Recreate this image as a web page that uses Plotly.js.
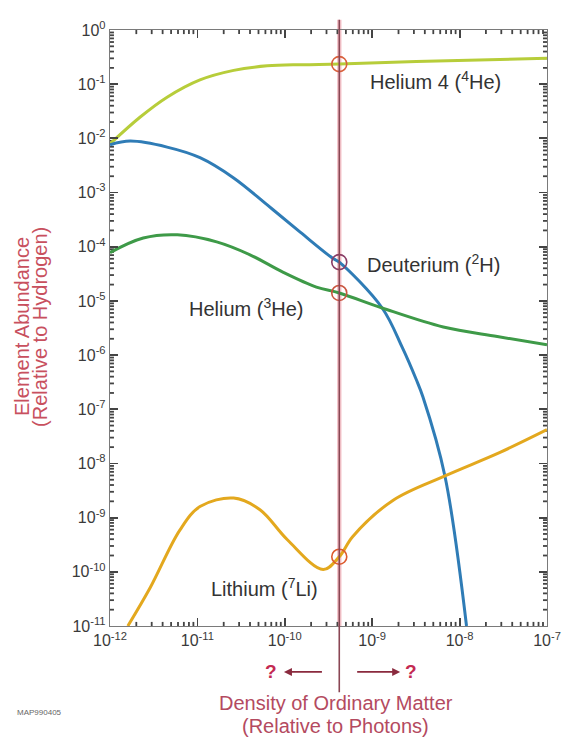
<!DOCTYPE html>
<html>
<head>
<meta charset="utf-8">
<script src="https://cdn.plot.ly/plotly-3.0.1.min.js"></script>
<style>
  html, body { margin: 0; padding: 0; background: #ffffff; }
  #chart { width: 570px; height: 738px; }
</style>
</head>
<body>
<div id="chart"></div>
<script>
// ---- Data ----
const he4X = [1e-12, 2.2e-12, 4.5e-12, 1.07e-11, 2.6e-11, 6.3e-11, 1.6e-10, 4.2e-10, 3.2e-9, 1e-7];
const he4Y = [7.9e-3, 0.0245, 0.0575, 0.12, 0.18, 0.218, 0.229, 0.235, 0.263, 0.30];

const dX = [1e-12, 1.7e-12, 4.5e-12, 1.07e-11, 2.6e-11, 6.3e-11, 1.5e-10, 3.5e-10, 4.2e-10, 1.3e-9, 2.2e-9, 3.2e-9, 3.8e-9, 6.8e-9, 1.2e-8];
const dY = [7.6e-3, 8.9e-3, 6.9e-3, 4.4e-3, 1.86e-3, 5.9e-4, 1.86e-4, 6.2e-5, 5.2e-5, 7.4e-6, 1.4e-6, 3.5e-7, 1.7e-7, 5.8e-9, 1e-11];

const he3X = [1e-12, 2.4e-12, 5.9e-12, 1.66e-11, 4.0e-11, 9.5e-11, 2.3e-10, 4.2e-10, 1.3e-9, 6.5e-9, 2.7e-8, 1e-7];
const he3Y = [7.8e-5, 1.45e-4, 1.66e-4, 1.23e-4, 7.1e-5, 3.4e-5, 1.8e-5, 1.4e-5, 7.4e-6, 3.3e-6, 2.2e-6, 1.55e-6];

const liX = [1.6e-12, 2.9e-12, 6.3e-12, 1.07e-11, 2.6e-11, 5.2e-11, 1.07e-10, 2.75e-10, 4.2e-10, 6.0e-10, 1.74e-9, 6.8e-9, 2.9e-8, 1e-7];
const liY = [1e-11, 5.2e-11, 5.9e-10, 1.6e-9, 2.3e-9, 1.4e-9, 3.9e-10, 1.1e-10, 1.9e-10, 4.5e-10, 2.1e-9, 5.9e-9, 1.6e-8, 4.2e-8];

const etaX = 4.2e-10;
const markX = [4.2e-10, 4.2e-10, 4.2e-10, 4.2e-10];
const markY = [0.235, 5.2e-5, 1.4e-5, 1.9e-10];

const xTickVals = [1e-12, 1e-11, 1e-10, 1e-9, 1e-8, 1e-7];
const xTickText = ['10<sup>-12</sup>', '10<sup>-11</sup>', '10<sup>-10</sup>', '10<sup>-9</sup>', '10<sup>-8</sup>', '10<sup>-7</sup>'];
const yTickVals = [1e-11, 1e-10, 1e-9, 1e-8, 1e-7, 1e-6, 1e-5, 1e-4, 1e-3, 1e-2, 1e-1, 1];
const yTickText = ['10<sup>-11</sup>', '10<sup>-10</sup>', '10<sup>-9</sup>', '10<sup>-8</sup>', '10<sup>-7</sup>', '10<sup>-6</sup>',
                   '10<sup>-5</sup>', '10<sup>-4</sup>', '10<sup>-3</sup>', '10<sup>-2</sup>', '10<sup>-1</sup>', '10<sup>0</sup>'];
const minorMultipliers = [2, 3, 4, 5, 6, 7, 8, 9];

const labelHe4 = 'Helium 4 (<sup>4</sup>He)';
const labelD = 'Deuterium (<sup>2</sup>H)';
const labelHe3 = 'Helium (<sup>3</sup>He)';
const labelLi = 'Lithium (<sup>7</sup>Li)';

// minor tick positions (between the major decade ticks)
function minorTicks(decades) {
  const out = [];
  decades.slice(0, -1).forEach(function (d) {
    minorMultipliers.forEach(function (m) { out.push(m * d); });
  });
  return out;
}
const xMinorVals = minorTicks(xTickVals);
const yMinorVals = minorTicks(yTickVals);

// ---- Styling ----
const FONT = 'Liberation Sans, Arial, Helvetica, sans-serif';
const TICK_COLOR = '#444444';

function curve(x, y, color) {
  return {
    x: x, y: y, type: 'scatter', mode: 'lines',
    line: { color: color, width: 3, shape: 'spline', smoothing: 1 },
    hoverinfo: 'skip', showlegend: false
  };
}

// minor tick marks as short segments through the library's own axes (broken with null)
function xTickTrace(vals, yEdge, yInner) {
  const xs = [], ys = [];
  vals.forEach(function (v) { xs.push(v, v, null); ys.push(yEdge, yInner, null); });
  return { x: xs, y: ys, type: 'scatter', mode: 'lines', line: { color: TICK_COLOR, width: 1.8 },
           hoverinfo: 'skip', showlegend: false, connectgaps: false, cliponaxis: false };
}
function yTickTrace(vals, xEdge, xInner) {
  const xs = [], ys = [];
  vals.forEach(function (v) { ys.push(v, v, null); xs.push(xEdge, xInner, null); });
  return { x: xs, y: ys, type: 'scatter', mode: 'lines', line: { color: TICK_COLOR, width: 1.8 },
           hoverinfo: 'skip', showlegend: false, connectgaps: false, cliponaxis: false };
}

const traces = [
  // minor ticks: bottom, top, left, right (about 4 px long)
  xTickTrace(xMinorVals, 1e-11, 1.19e-11),
  xTickTrace(xMinorVals, 1, 0.84),
  yTickTrace(yMinorVals, 1e-12, 1.11e-12),
  yTickTrace(yMinorVals, 1e-7, 0.9e-7),
  curve(he4X, he4Y, '#b7cd3a'),
  curve(dX, dY, '#2f7cb6'),
  curve(he3X, he3Y, '#3e9a48'),
  curve(liX, liY, '#e3a81e'),
  {
    x: markX, y: markY, type: 'scatter', mode: 'markers',
    marker: {
      symbol: 'circle-open', size: 15,
      color: ['#d8603c', '#8a3d66', '#c9553f', '#dd5a2e'],
      line: { width: 1.6, color: ['#d8603c', '#8a3d66', '#c9553f', '#dd5a2e'] }
    },
    hoverinfo: 'skip', showlegend: false, cliponaxis: false
  }
];

const axisCommon = {
  type: 'log',
  showline: true, linecolor: '#7a7a7a', linewidth: 1.2, mirror: 'allticks',
  ticks: 'inside', ticklen: 8, tickwidth: 1.8, tickcolor: TICK_COLOR,
  showgrid: false, zeroline: false,
  tickfont: { family: FONT, size: 16, color: '#3a3a3a' },
  tickmode: 'array'
};

const layout = {
  width: 570, height: 738,
  margin: { l: 110, r: 23, t: 30, b: 112 },
  paper_bgcolor: '#ffffff', plot_bgcolor: '#ffffff',
  xaxis: Object.assign({}, axisCommon, {
    range: [-12, -7], tickvals: xTickVals, ticktext: xTickText
  }),
  yaxis: Object.assign({}, axisCommon, {
    range: [-11, 0], tickvals: yTickVals, ticktext: yTickText
  }),
  shapes: [
    { type: 'line', xref: 'x', yref: 'paper', x0: etaX, x1: etaX, y0: 0, y1: 1.017,
      line: { color: '#f5c6cc', width: 4.5 }, layer: 'below' },
    { type: 'line', xref: 'x', yref: 'paper', x0: etaX, x1: etaX, y0: -0.111, y1: 1.017,
      line: { color: '#8a4654', width: 1.6 }, layer: 'above' }
  ],
  annotations: [
    { xref: 'paper', yref: 'paper', x: 0.590, y: 0.916, xanchor: 'left', yanchor: 'middle',
      text: labelHe4, showarrow: false, font: { family: FONT, size: 20, color: '#333' } },
    { xref: 'paper', yref: 'paper', x: 0.584, y: 0.609, xanchor: 'left', yanchor: 'middle',
      text: labelD, showarrow: false, font: { family: FONT, size: 20, color: '#333' } },
    { xref: 'paper', yref: 'paper', x: 0.176, y: 0.535, xanchor: 'left', yanchor: 'middle',
      text: labelHe3, showarrow: false, font: { family: FONT, size: 20, color: '#333' } },
    { xref: 'paper', yref: 'paper', x: 0.227, y: 0.064, xanchor: 'left', yanchor: 'middle',
      text: labelLi, showarrow: false, font: { family: FONT, size: 20, color: '#333' } },
    // y-axis title (two lines)
    { xref: 'paper', yref: 'paper', x: -0.201, y: 0.502, xanchor: 'center', yanchor: 'middle',
      textangle: -90, text: 'Element Abundance', showarrow: false,
      font: { family: FONT, size: 20, color: '#c8505e' } },
    { xref: 'paper', yref: 'paper', x: -0.160, y: 0.502, xanchor: 'center', yanchor: 'middle',
      textangle: -90, text: '(Relative to Hydrogen)', showarrow: false,
      font: { family: FONT, size: 20, color: '#c8505e' } },
    // x-axis title (two lines)
    { xref: 'paper', yref: 'paper', x: 0.517, y: -0.130, xanchor: 'center', yanchor: 'middle',
      text: 'Density of Ordinary Matter', showarrow: false,
      font: { family: FONT, size: 20, color: '#b44a60' } },
    { xref: 'paper', yref: 'paper', x: 0.517, y: -0.167, xanchor: 'center', yanchor: 'middle',
      text: '(Relative to Photons)', showarrow: false,
      font: { family: FONT, size: 20, color: '#b44a60' } },
    // arrows and question marks
    { xref: 'paper', yref: 'paper', x: 0.398, y: -0.077, ax: 40, ay: 0,
      text: ' ', showarrow: true, arrowhead: 2, arrowsize: 1, arrowwidth: 1.6, arrowcolor: '#8a2a3e',
      font: { size: 2 } },
    { xref: 'paper', yref: 'paper', x: 0.664, y: -0.077, ax: -45, ay: 0,
      text: ' ', showarrow: true, arrowhead: 2, arrowsize: 1, arrowwidth: 1.6, arrowcolor: '#8a2a3e',
      font: { size: 2 } },
    { xref: 'paper', yref: 'paper', x: 0.368, y: -0.077, xanchor: 'center', yanchor: 'middle',
      text: '<b>?</b>', showarrow: false, font: { family: FONT, size: 19, color: '#c42a52' } },
    { xref: 'paper', yref: 'paper', x: 0.689, y: -0.077, xanchor: 'center', yanchor: 'middle',
      text: '<b>?</b>', showarrow: false, font: { family: FONT, size: 19, color: '#c42a52' } },
    // small id text
    { xref: 'paper', yref: 'paper', x: -0.218, y: -0.145, xanchor: 'left', yanchor: 'middle',
      text: 'MAP990405', showarrow: false, font: { family: FONT, size: 8, color: '#666' } }
  ]
};

Plotly.newPlot('chart', traces, layout, { displayModeBar: false, staticPlot: true });
</script>
</body>
</html>
